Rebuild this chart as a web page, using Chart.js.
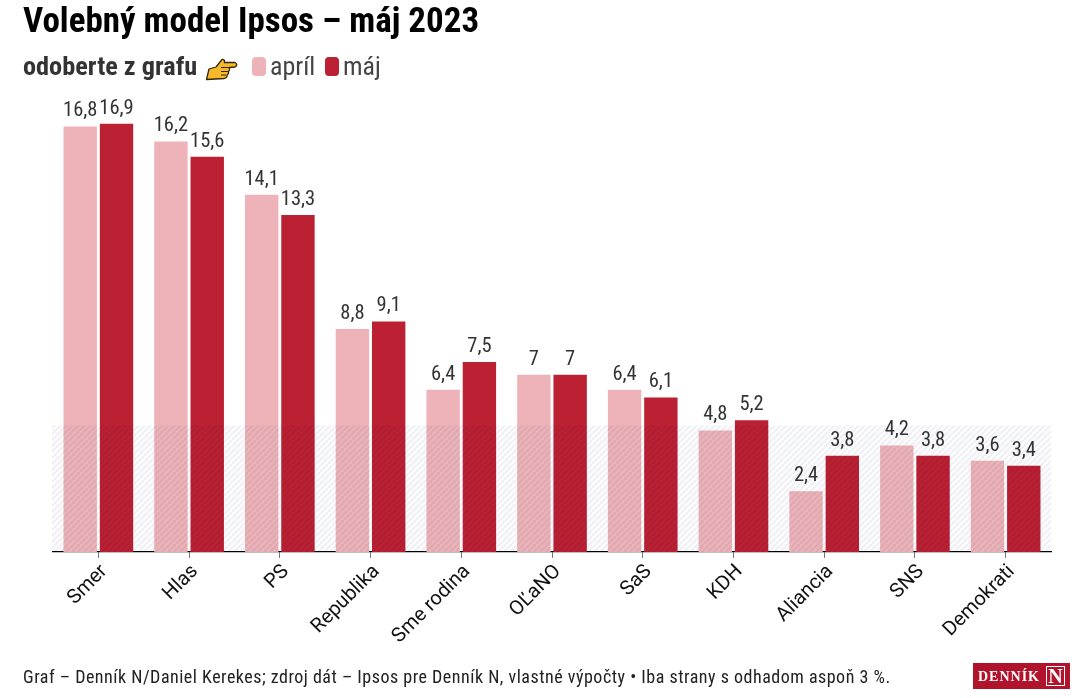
<!DOCTYPE html>
<html>
<head>
<meta charset="utf-8">
<script src="https://cdn.jsdelivr.net/npm/chart.js@4"></script>
<style>
body { margin:0; background:#fff; width:1088px; height:698px; overflow:hidden; position:relative; font-family:Roboto, sans-serif; font-stretch:condensed; }
#myChart { position:absolute; left:0; top:0; }
.txt { position:absolute; white-space:nowrap; }
#title { left:23px; top:0px; font-size:35px; line-height:42px; font-weight:700; color:#000; }
#sub { left:23px; top:51px; font-size:26.3px; line-height:30px; font-weight:700; color:#333; }
#hand { position:absolute; left:205px; top:57px; }
.key { position:absolute; top:57px; width:14px; height:19px; border-radius:4px; }
.keytxt { top:51px; font-size:26px; line-height:30px; color:#444; }
#foot { left:23px; top:665px; font-size:18px; line-height:24px; letter-spacing:.5px; color:#222; }
#logo { position:absolute; left:973px; top:663px; width:97px; height:26px; background:#b0132b; color:#fff; }
#logo span { position:absolute; left:5px; top:5px; font:700 14px/17px "Liberation Serif", serif; letter-spacing:1px; font-stretch:normal; }
#logo b { position:absolute; left:73px; top:3px; width:17px; height:18px; border:1px solid #fff; font:700 20px/18px "Liberation Serif", serif; font-stretch:normal; text-align:center; }
</style>
</head>
<body>
<canvas id="myChart" width="1088" height="698"></canvas>
<div class="txt" id="title">Volebný model Ipsos – máj 2023</div>
<div class="txt" id="sub">odoberte z grafu</div>
<svg id="hand" width="34" height="24" viewBox="0 0 34 24">
  <path d="M1.5 22.5 L4 12 L11 10 L17 2.5 Q20 2 19.5 5.5 L30 5.5 Q33.5 7.5 30 10 L24.5 10.5 Q25 13 23.5 14.5 Q24 17 22 18 Q22.5 21 19 21.5 Z" fill="#f7b92b" stroke="#33260a" stroke-width="1.3" stroke-linejoin="round"/>
  <path d="M16 10.5 L24 10.5 M16 14.5 L23 14.5 M16 18 L21 18" stroke="#33260a" stroke-width="1" fill="none"/>
</svg>
<div class="txt" id="foot">Graf – Denník N/Daniel Kerekes; zdroj dát – Ipsos pre Denník N, vlastné výpočty • Iba strany s odhadom aspoň 3 %.</div>
<div id="logo"><span>DENNÍK</span><b>N</b></div>
<script>
var categories = ['Smer', 'Hlas', 'PS', 'Republika', 'Sme rodina', 'OĽaNO', 'SaS', 'KDH', 'Aliancia', 'SNS', 'Demokrati'];
var aprilValues = [16.8, 16.2, 14.1, 8.8, 6.4, 7, 6.4, 4.8, 2.4, 4.2, 3.6];
var majValues = [16.9, 15.6, 13.3, 9.1, 7.5, 7, 6.1, 5.2, 3.8, 3.8, 3.4];
var seriesNames = ['apríl', 'máj'];
var seriesColors = ['#edb3b8', '#bb2033'];
var threshold = 5;

// legenda v hlavicke
var keyLeft = [252, 325];
seriesNames.forEach(function(name, i) {
    var k = document.createElement('div');
    k.className = 'key';
    k.style.left = keyLeft[i] + 'px';
    k.style.background = seriesColors[i];
    document.body.appendChild(k);
    var t = document.createElement('div');
    t.className = 'txt keytxt';
    t.style.left = (keyLeft[i] + 18) + 'px';
    t.textContent = name;
    document.body.appendChild(t);
});

// srafovany pas pod hranicou 5 %
var bandPlugin = {
    id: 'band',
    afterDatasetsDraw: function(chart) {
        var ctx = chart.ctx, area = chart.chartArea;
        var y = chart.scales.y.getPixelForValue(threshold);
        var c = document.createElement('canvas');
        c.width = 6; c.height = 6;
        var p = c.getContext('2d');
        p.fillStyle = '#fdfdfd';
        p.fillRect(0, 0, 6, 6);
        p.strokeStyle = '#eff0f6';
        p.lineWidth = 2;
        p.beginPath();
        p.moveTo(-1, 7); p.lineTo(7, -1);
        p.moveTo(-4, 4); p.lineTo(4, -4);
        p.moveTo(2, 10); p.lineTo(10, 2);
        p.stroke();
        ctx.save();
        ctx.globalCompositeOperation = 'multiply';
        ctx.fillStyle = ctx.createPattern(c, 'repeat');
        ctx.fillRect(area.left - 1, y, area.right - area.left + 1, area.bottom - y);
        ctx.restore();
    }
};

// cisla nad stlpcami
var labelPlugin = {
    id: 'barLabels',
    afterDraw: function(chart) {
        var ctx = chart.ctx;
        ctx.save();
        ctx.font = 'condensed 20.5px Roboto';
        ctx.fillStyle = '#333';
        ctx.textAlign = 'center';
        ctx.textBaseline = 'bottom';
        chart.data.datasets.forEach(function(ds, i) {
            chart.getDatasetMeta(i).data.forEach(function(bar, j) {
                ctx.fillText(String(ds.data[j]).replace('.', ','), bar.x, bar.y - 5);
            });
        });
        ctx.restore();
    }
};

var ctx = document.getElementById('myChart');
var myChart = new Chart(ctx, {
    type: 'bar',
    data: {
        labels: categories,
        datasets: [
            { label: seriesNames[0], data: aprilValues, backgroundColor: seriesColors[0] },
            { label: seriesNames[1], data: majValues, backgroundColor: seriesColors[1] }
        ]
    },
    options: {
        responsive: false,
        animation: false,
        devicePixelRatio: 1,
        layout: { padding: { left: 53, right: 37, top: 96, bottom: 0 } },
        plugins: { legend: { display: false }, tooltip: { enabled: false } },
        datasets: { bar: { categoryPercentage: 0.8, barPercentage: 0.92 } },
        scales: {
            x: {
                grid: { drawOnChartArea: false, drawTicks: true, tickLength: 6, color: '#777', offset: false },
                border: { color: '#000', width: 1.2 },
                ticks: {
                    autoSkip: false, minRotation: 45, maxRotation: 45, padding: 2, labelOffset: 6,
                    color: '#111',
                    font: { family: 'Roboto', size: 20, style: 'normal condensed' }
                },
                afterFit: function(scale) {
                    scale.height = 146;
                    scale.paddingLeft = 0;
                    scale.paddingRight = 0;
                }
            },
            y: { display: false, min: 0, max: 18 }
        }
    },
    plugins: [bandPlugin, labelPlugin]
});
</script>
</body>
</html>
